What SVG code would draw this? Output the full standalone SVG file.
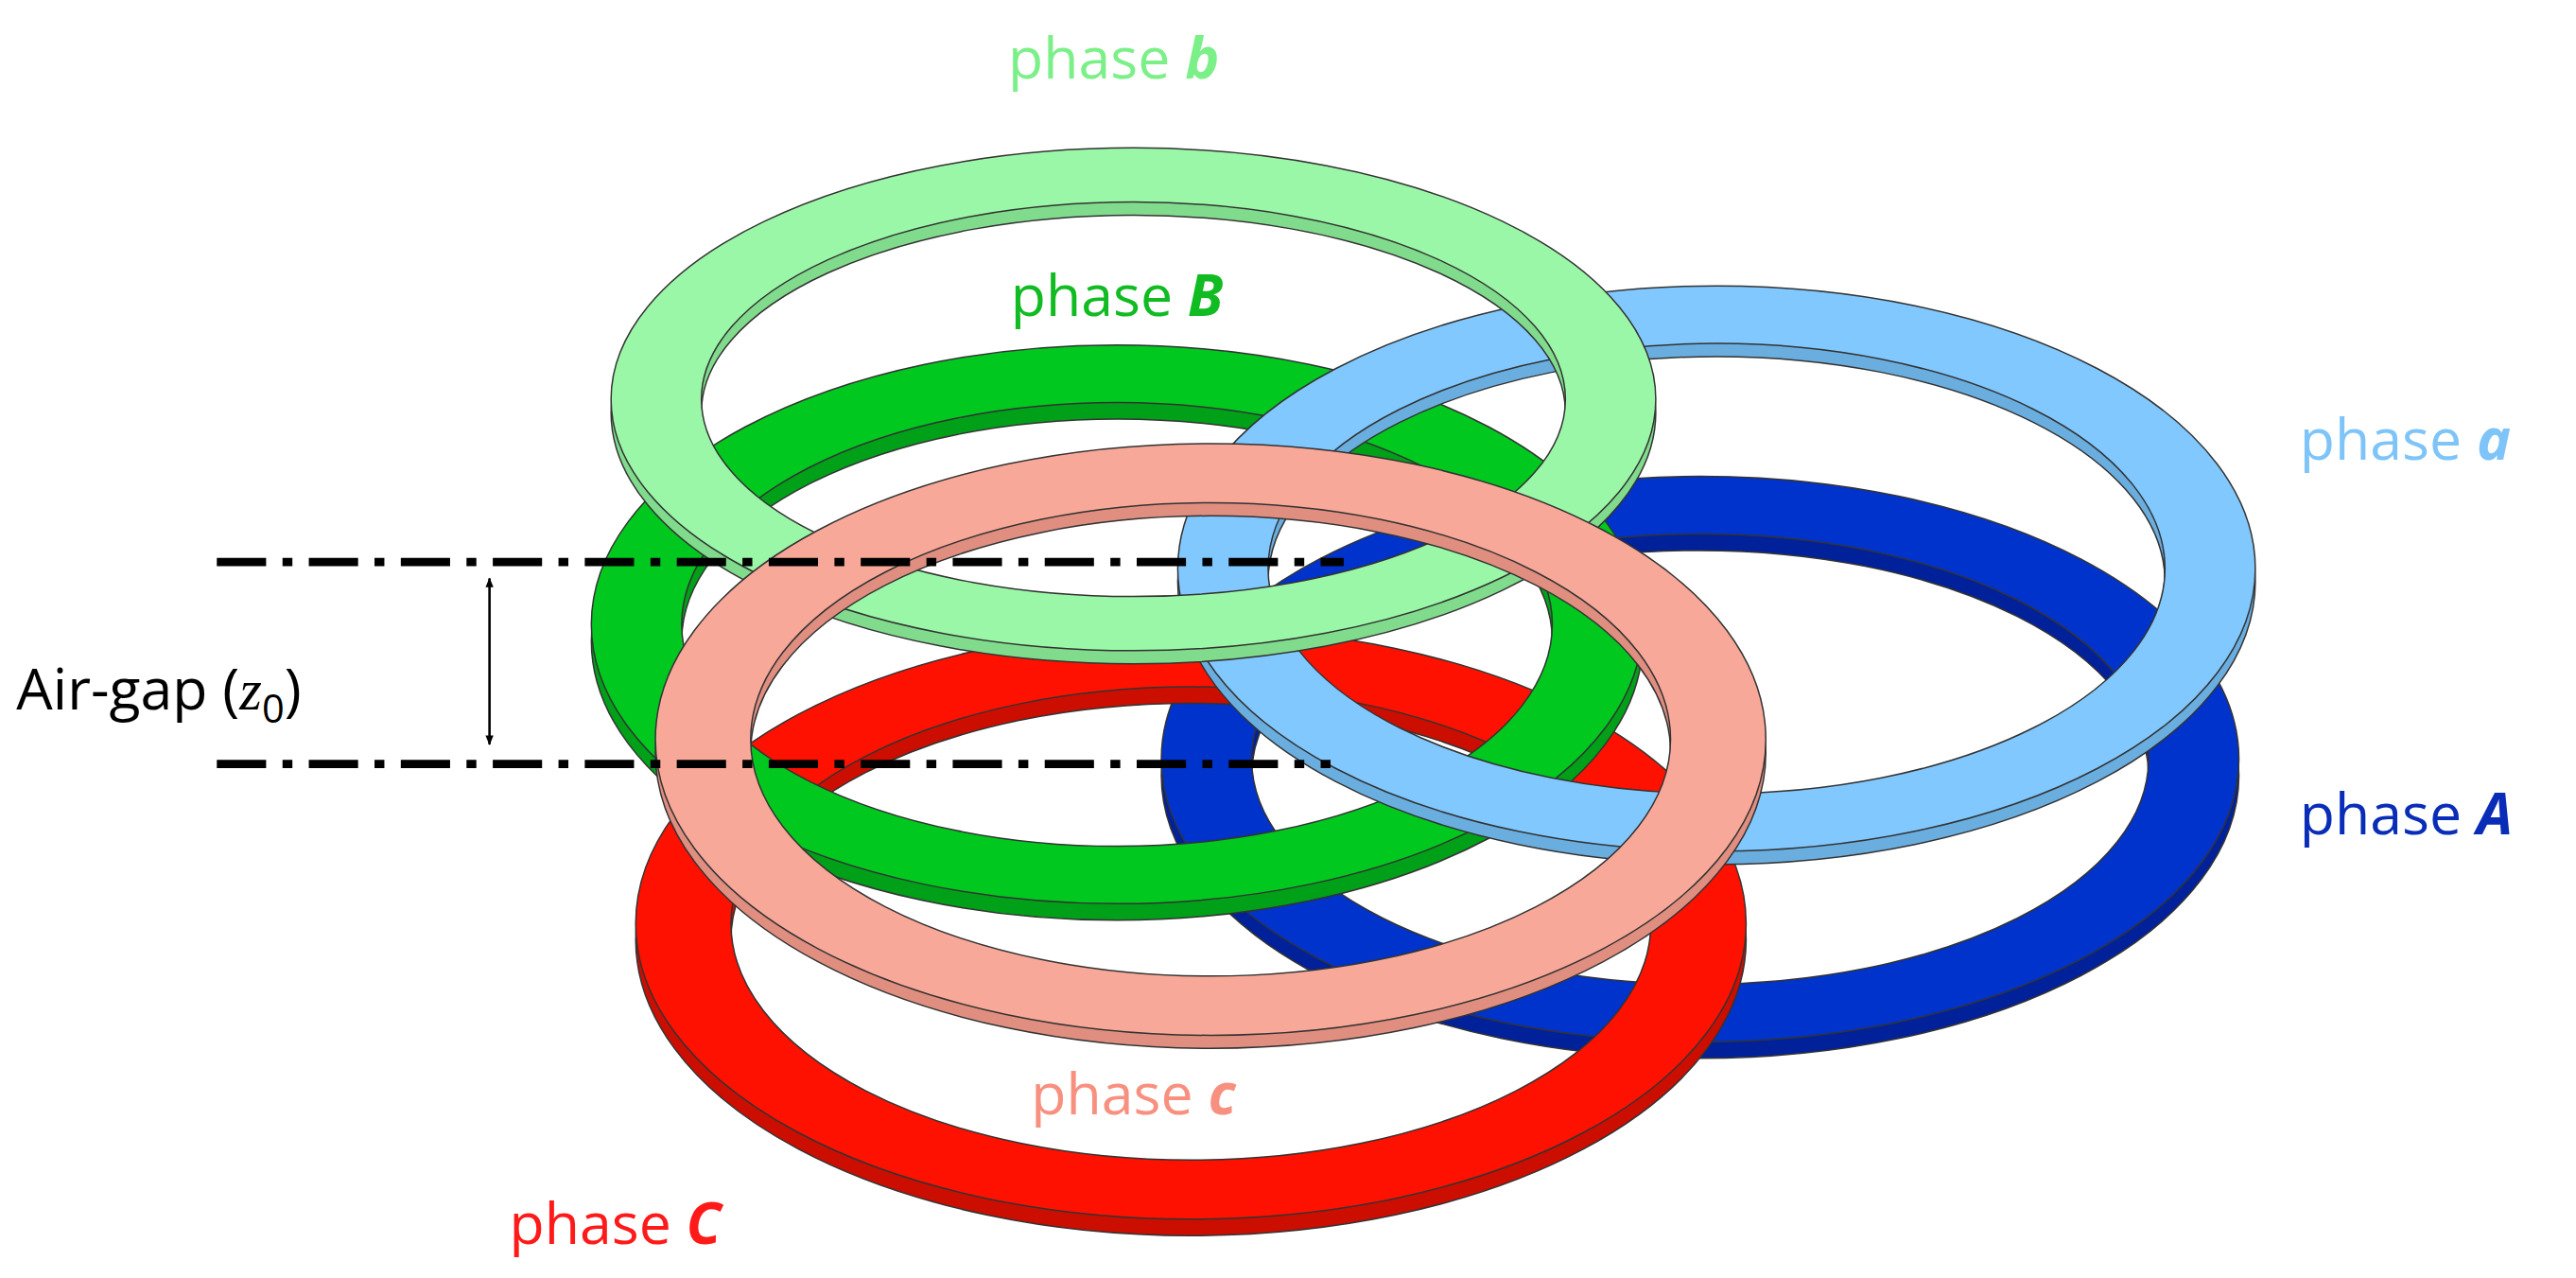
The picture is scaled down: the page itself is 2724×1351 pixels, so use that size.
<svg xmlns="http://www.w3.org/2000/svg" width="2724" height="1351" viewBox="0 0 2724 1351">
<style>
.t{font-family:"Open Sans","Liberation Sans",sans-serif;font-size:35px}
.e{font-style:italic;font-weight:bold}
.ring{fill-rule:evenodd;stroke:#333;stroke-width:1.5;vector-effect:non-scaling-stroke}
.dd{fill:none;stroke:#000;stroke-width:5;stroke-dasharray:30 10 6 10}
</style>
<defs>
<marker id="ah" viewBox="0 0 10 10" refX="9" refY="5" markerWidth="6" markerHeight="6" orient="auto-start-reverse" markerUnits="userSpaceOnUse"><path d="M0,1 L10,5 L0,9 Z" fill="#000"/></marker>
</defs>
<rect width="2724" height="1351" fill="#fff"/>
<g transform="scale(1.737)">
<g id="ringA">
<path class="ring" fill="#00219a" d="M707,472 a328,172 0 1 0 656,0 a328,172 0 1 0 -656,0 Z M762,472 a273,137 0 1 0 546,0 a273,137 0 1 0 -546,0 Z"/>
<path class="ring" fill="#0033cc" d="M707,462 a328,172 0 1 0 656,0 a328,172 0 1 0 -656,0 Z M762,462 a273,137 0 1 0 546,0 a273,137 0 1 0 -546,0 Z"/>
</g>
<g id="ringC">
<path class="ring" fill="#cc0e00" d="M387,572 a338,180 0 1 0 676,0 a338,180 0 1 0 -676,0 Z M445,572 a280,144 0 1 0 560,0 a280,144 0 1 0 -560,0 Z"/>
<path class="ring" fill="#ff1100" d="M387,562 a338,180 0 1 0 676,0 a338,180 0 1 0 -676,0 Z M445,562 a280,144 0 1 0 560,0 a280,144 0 1 0 -560,0 Z"/>
</g>
<g id="ringB">
<path class="ring" fill="#00a018" d="M360,390 a320,170 0 1 0 640,0 a320,170 0 1 0 -640,0 Z M415,390 a265,135 0 1 0 530,0 a265,135 0 1 0 -530,0 Z"/>
<path class="ring" fill="#00c81e" d="M360,380 a320,170 0 1 0 640,0 a320,170 0 1 0 -640,0 Z M415,380 a265,135 0 1 0 530,0 a265,135 0 1 0 -530,0 Z"/>
</g>
<g id="ringa">
<path class="ring" fill="#6aaee0" d="M717,354 a328,172 0 1 0 656,0 a328,172 0 1 0 -656,0 Z M772,354 a273,137 0 1 0 546,0 a273,137 0 1 0 -546,0 Z"/>
<path class="ring" fill="#80c8ff" d="M717,346 a328,172 0 1 0 656,0 a328,172 0 1 0 -656,0 Z M772,346 a273,137 0 1 0 546,0 a273,137 0 1 0 -546,0 Z"/>
</g>
<g id="ringb">
<path class="ring" fill="#80dc8c" d="M372,251 a318,153 0 1 0 636,0 a318,153 0 1 0 -636,0 Z M427,251 a263,120 0 1 0 526,0 a263,120 0 1 0 -526,0 Z"/>
<path class="ring" fill="#9bf7a8" d="M372,243 a318,153 0 1 0 636,0 a318,153 0 1 0 -636,0 Z M427,243 a263,120 0 1 0 526,0 a263,120 0 1 0 -526,0 Z"/>
</g>
<g id="ringc">
<path class="ring" fill="#e08e80" d="M399,458 a338,180 0 1 0 676,0 a338,180 0 1 0 -676,0 Z M457,458 a280,144 0 1 0 560,0 a280,144 0 1 0 -560,0 Z"/>
<path class="ring" fill="#f8a898" d="M399,450 a338,180 0 1 0 676,0 a338,180 0 1 0 -676,0 Z M457,450 a280,144 0 1 0 560,0 a280,144 0 1 0 -560,0 Z"/>
</g>
<g id="connectors">
<path class="dd" d="M132,342 H818 M132,465 H810"/>
<path d="M298,352 V453" stroke="#000" stroke-width="1.5" marker-start="url(#ah)" marker-end="url(#ah)"/>
</g>
<g id="labels">
<text class="t" x="678" y="48" text-anchor="middle" fill="#7cf088">phase <tspan class="e">b</tspan></text>
<text class="t" x="680" y="192" text-anchor="middle" fill="#11bb22">phase <tspan class="e">B</tspan></text>
<text class="t" x="1400" y="280" fill="#7fc4f8">phase <tspan class="e">a</tspan></text>
<text class="t" x="1400" y="508" fill="#0a2db8">phase <tspan class="e">A</tspan></text>
<text class="t" x="690" y="678" text-anchor="middle" fill="#f89080">phase <tspan class="e">c</tspan></text>
<text class="t" x="310" y="757" fill="#ff1a1a">phase <tspan class="e">C</tspan></text>
<text class="t" x="10" y="432" fill="#000">Air-gap (<tspan font-style="italic" font-family="Liberation Serif,serif">z</tspan><tspan font-size="24" dy="8">0</tspan><tspan dy="-8">)</tspan></text>
</g>
</g>
</svg>
